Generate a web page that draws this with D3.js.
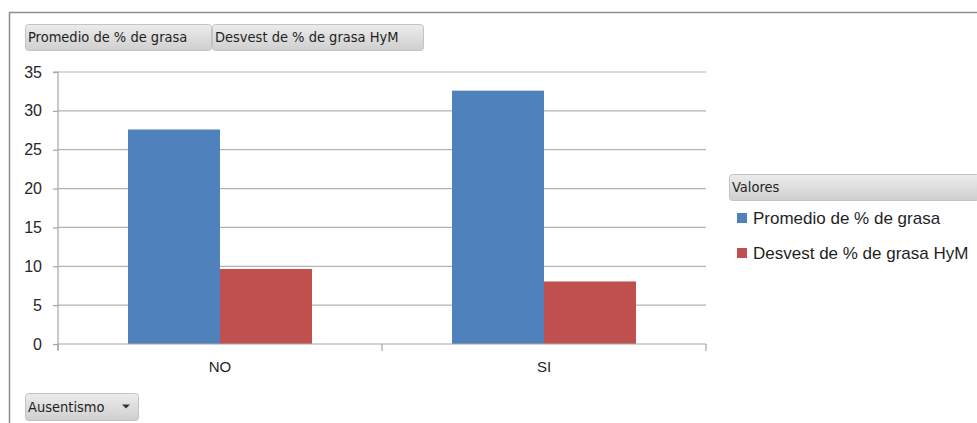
<!DOCTYPE html>
<html>
<head>
<meta charset="utf-8">
<script src="https://cdn.jsdelivr.net/npm/d3@7"></script>
<style>
  html, body { margin: 0; padding: 0; background: #fff; }
  svg { display: block; }
</style>
</head>
<body>
<svg id="chart" width="977" height="423"></svg>
<script>
// Categories and series
const categories = ["NO", "SI"];
const seriesNames = ["Promedio de % de grasa", "Desvest de % de grasa HyM"];
const promedio = [27.6, 32.6];
const desvest = [9.65, 8.05];
const yTicks = [0, 5, 10, 15, 20, 25, 30, 35];
const colors = ["#4F81BD", "#C0504D"];

const svg = d3.select("#chart");
const font = "'Liberation Sans', 'DejaVu Sans', sans-serif";
const uiFont = "'DejaVu Sans Condensed', 'DejaVu Sans', sans-serif";

// Gradients for pivot-style buttons
const defs = svg.append("defs");
const grad = defs.append("linearGradient").attr("id", "btn").attr("x1", 0).attr("y1", 0).attr("x2", 0).attr("y2", 1);
grad.append("stop").attr("offset", "0%").attr("stop-color", "#ececec");
grad.append("stop").attr("offset", "100%").attr("stop-color", "#cfcfcf");

// Outer frame
svg.append("path")
  .attr("d", "M9.5,423 L9.5,12.5 L977,12.5")
  .attr("fill", "none").attr("stroke", "#8c8c8c").attr("stroke-width", 1.5);

const plotLeft = 58, plotRight = 706, plotTop = 72, plotBottom = 344;

const x0 = d3.scaleBand().domain(categories).range([plotLeft, plotRight]).padding(0);
const x1 = d3.scaleBand().domain(seriesNames)
  .range([x0.bandwidth() * 0.216, x0.bandwidth() * 0.784]).padding(0);
const y = d3.scaleLinear().domain([0, 35]).range([plotBottom, plotTop]);

// Gridlines
svg.append("g").selectAll("line").data(yTicks.filter(d => d > 0)).join("line")
  .attr("x1", plotLeft).attr("x2", plotRight)
  .attr("y1", d => y(d)).attr("y2", d => y(d))
  .attr("stroke", "#b3b3b3").attr("stroke-width", 1.2);

// Bars
const data = categories.map((c, i) => ({ cat: c, vals: [promedio[i], desvest[i]] }));
const groups = svg.append("g").selectAll("g").data(data).join("g")
  .attr("transform", d => `translate(${x0(d.cat)},0)`);
groups.selectAll("rect").data(d => d.vals.map((v, j) => ({ name: seriesNames[j], v, j }))).join("rect")
  .attr("x", d => x1(d.name))
  .attr("width", x1.bandwidth())
  .attr("y", d => y(d.v))
  .attr("height", d => y(0) - y(d.v))
  .attr("fill", d => colors[d.j]);

// Y axis
const yAxis = d3.axisLeft(y).tickValues(yTicks).tickSize(5).tickPadding(11);
const gy = svg.append("g").attr("transform", `translate(${plotLeft},0)`).call(yAxis);
gy.select(".domain").attr("stroke", "#a6a6a6").attr("stroke-width", 1.2).attr("d", `M-5,${plotTop}H0V${plotBottom + 6}`);
gy.selectAll(".tick line").attr("stroke", "#a6a6a6").attr("stroke-width", 1.2);
gy.selectAll(".tick text").attr("font-family", font).attr("font-size", 16).attr("fill", "#262626");

// X axis
const xAxis = d3.axisBottom(x0).tickSize(0).tickPadding(17);
const gx = svg.append("g").attr("transform", `translate(0,${plotBottom})`).call(xAxis);
gx.select(".domain").attr("stroke", "#a6a6a6").attr("stroke-width", 1.2).attr("d", `M${plotLeft},0H${plotRight}`);
gx.selectAll(".tick text").attr("font-family", font).attr("font-size", 15).attr("fill", "#262626");
// category boundary ticks
const bounds = [plotLeft].concat(categories.map(c => x0(c) + x0.bandwidth()));
gx.append("g").selectAll("line").data(bounds).join("line")
  .attr("x1", d => d).attr("x2", d => d).attr("y1", 0).attr("y2", 7)
  .attr("stroke", "#a6a6a6").attr("stroke-width", 1.2);

// Buttons
function button(x, yy, w, h, label, arrow) {
  const g = svg.append("g");
  g.append("rect").attr("x", x + 0.5).attr("y", yy + 0.5).attr("width", w).attr("height", h)
    .attr("rx", 3).attr("fill", "url(#btn)").attr("stroke", "#c3c3c3");
  g.append("text").attr("x", x + 3).attr("y", yy + h / 2 + 5)
    .attr("font-family", uiFont).attr("font-size", 14.5).attr("fill", "#1f1f1f").text(label);
  if (arrow) {
    g.append("path").attr("d", `M${x + w - 16},${yy + h / 2 - 2} l8,0 l-4,4 z`).attr("fill", "#333");
  }
}
button(25, 24, 186, 26, seriesNames[0]);
button(212, 24, 211, 26, seriesNames[1]);
button(25, 393, 113, 27, "Ausentismo", true);
button(729, 174, 250, 26, "Valores");

// Legend
const legend = svg.append("g").selectAll("g").data(seriesNames).join("g")
  .attr("transform", (d, i) => `translate(737,${218 + i * 35})`);
legend.append("rect").attr("x", 0).attr("y", -5).attr("width", 10).attr("height", 10)
  .attr("fill", (d, i) => colors[i]);
legend.append("text").attr("x", 16).attr("y", 6)
  .attr("font-family", font).attr("font-size", 17).attr("fill", "#1f1f1f").text(d => d);
</script>
</body>
</html>
